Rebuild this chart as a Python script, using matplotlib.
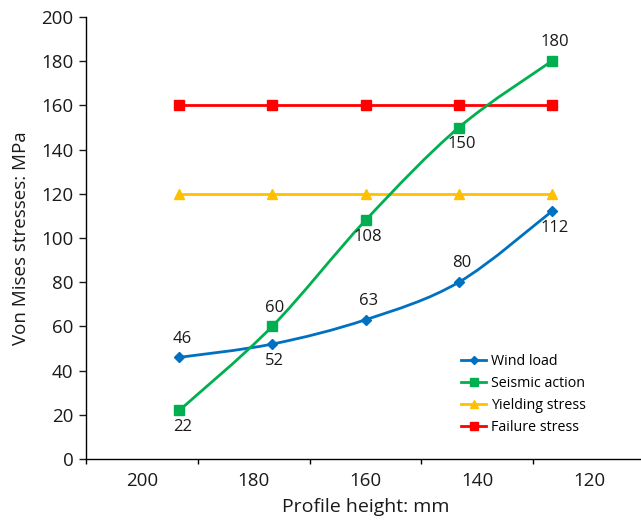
import matplotlib
matplotlib.use('Agg')
import matplotlib.pyplot as plt
from matplotlib.path import Path
from matplotlib.patches import PathPatch
from matplotlib.lines import Line2D
import numpy as np

plt.rcParams['font.family'] = ['Open Sans', 'DejaVu Sans']

# data
profile_height = [193.3, 176.7, 160.0, 143.3, 126.7]
wind_load = [46, 52, 63, 80, 112]
seismic_action = [22, 60, 108, 150, 180]
yielding_stress = [120, 120, 120, 120, 120]
failure_stress = [160, 160, 160, 160, 160]
x_labels = [200, 180, 160, 140, 120]
y_ticks = list(range(0, 201, 20))

# label placement: +1 above the point, -1 below
wind_pos = [1, -1, 1, 1, -1]
seismic_pos = [-1, 1, -1, -1, 1]

BLUE = '#0070C0'
GREEN = '#00B050'
YELLOW = '#FFC000'
RED = '#FF0000'


def smooth_path(x, y):
    # Excel style smoothed line: cubic bezier segments, catmull-rom handles
    pts = np.column_stack([x, y]).astype(float)
    n = len(pts)
    verts = [pts[0]]
    codes = [Path.MOVETO]
    for i in range(n - 1):
        p_prev = pts[i - 1] if i > 0 else pts[i]
        p_next = pts[i + 2] if i + 2 < n else pts[i + 1]
        c1 = pts[i] + (pts[i + 1] - p_prev) / 6.0
        c2 = pts[i + 1] - (p_next - pts[i]) / 6.0
        verts += [c1, c2, pts[i + 1]]
        codes += [Path.CURVE4] * 3
    return Path(verts, codes)


fig = plt.figure(figsize=(6.41, 5.26), dpi=100)
ax = fig.add_axes([86 / 641, 67 / 526, 559 / 641, 442 / 526])

for yv, col in [(wind_load, BLUE), (seismic_action, GREEN)]:
    ax.add_patch(PathPatch(smooth_path(profile_height, yv), facecolor='none',
                           edgecolor=col, lw=2.0, zorder=3))

ax.plot(profile_height, wind_load, ls='none', marker='D', ms=5, color=BLUE, zorder=4)
ax.plot(profile_height, seismic_action, ls='none', marker='s', ms=7, color=GREEN, zorder=4)
ax.plot(profile_height, yielding_stress, '-', marker='^', ms=7.5, lw=2.0, color=YELLOW, zorder=2)
ax.plot(profile_height, failure_stress, '-', marker='s', ms=7, lw=2.0, color=RED, zorder=2)

for xs, ys, pos in [(profile_height, wind_load, wind_pos),
                    (profile_height, seismic_action, seismic_pos)]:
    for xv, yv, p in zip(xs, ys, pos):
        dy = 13.5 if p > 0 else -12
        ax.annotate(str(yv), (xv, yv), xytext=(2, dy), textcoords='offset points',
                    ha='center', va='center', fontsize=12, color='#1a1a1a')

ax.set_xlim(210, 110)
ax.set_ylim(0, 200)
ax.set_xticks(x_labels)
ax.set_xticklabels([str(v) for v in x_labels])
ax.set_xticks([210, 190, 170, 150, 130, 110], minor=True)
ax.set_yticks(y_ticks)
ax.tick_params(axis='x', which='major', length=0, pad=9, labelsize=13.5, colors='#1a1a1a')
ax.tick_params(axis='x', which='minor', length=3.5, width=1, direction='out')
ax.tick_params(axis='y', length=5, width=1, pad=4, labelsize=13.5, colors='#1a1a1a')
for s in ['top', 'right']:
    ax.spines[s].set_visible(False)
for s in ['left', 'bottom']:
    ax.spines[s].set_linewidth(1)

ax.set_xlabel('Profile height: mm', fontsize=14, color='#1a1a1a', labelpad=6)
ax.set_ylabel('Von Mises stresses: MPa', fontsize=13.5, color='#1a1a1a', labelpad=8)

handles = [
    Line2D([], [], color=BLUE, lw=2.0, marker='D', ms=4.5),
    Line2D([], [], color=GREEN, lw=2.0, marker='s', ms=6),
    Line2D([], [], color=YELLOW, lw=2.0, marker='^', ms=6),
    Line2D([], [], color=RED, lw=2.0, marker='s', ms=6),
]
ax.legend(handles, ['Wind load', 'Seismic action', 'Yielding stress', 'Failure stress'],
          loc='upper left', bbox_to_anchor=(461 / 641, 1 - 354 / 526),
          bbox_transform=fig.transFigure, frameon=False, fontsize=10.3,
          handlelength=1.75, handletextpad=0.35, labelspacing=0.48, borderpad=0,
          borderaxespad=0)

fig.savefig('out.png', dpi=100)
